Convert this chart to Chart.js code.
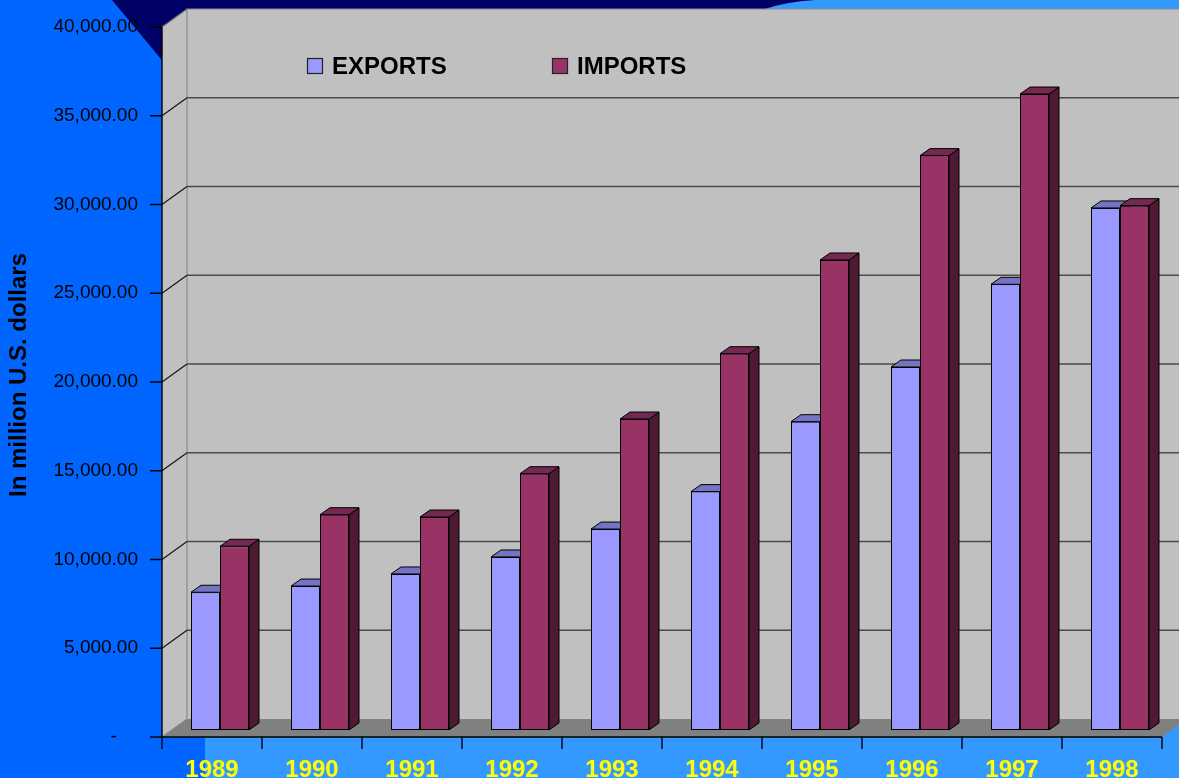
<!DOCTYPE html>
<html>
<head>
<meta charset="utf-8">
<script src="https://cdn.jsdelivr.net/npm/chart.js@4.4.1/dist/chart.umd.min.js"></script>
<style>
  html, body { margin: 0; padding: 0; background: #0066ff; }
  canvas { display: block; }
</style>
</head>
<body>
<canvas id="tradeChart" width="1179" height="778"></canvas>
<script>
// Exports and imports, million US dollars
const years = ['1989', '1990', '1991', '1992', '1993', '1994', '1995', '1996', '1997', '1998'];
const exportsValues = [7760, 8110, 8790, 9750, 11320, 13430, 17370, 20450, 25110, 29410];
const importsValues = [10350, 12130, 12000, 14440, 17520, 21200, 26480, 32360, 35830, 29540];
const valueTicks = [0, 5000, 10000, 15000, 20000, 25000, 30000, 35000, 40000];

const FONT = '"Liberation Sans", Arial, sans-serif';
Chart.defaults.font.family = FONT;

// depth of the bars, and where the front axis and back wall sit
// relative to the plane of the bar fronts
const DX = 10, DY = 7;
const FRONT = { dx: -8, dy: 7 };
const BACK = { dx: 17, dy: -11 };

const faceColors = [
  { top: '#7474c4', side: '#4d4d80' },
  { top: '#742852', side: '#4d1933' }
];

function poly(ctx, pts, fill, stroke) {
  ctx.beginPath();
  ctx.moveTo(pts[0][0], pts[0][1]);
  for (let i = 1; i < pts.length; i++) ctx.lineTo(pts[i][0], pts[i][1]);
  ctx.closePath();
  if (fill) { ctx.fillStyle = fill; ctx.fill(); }
  if (stroke) { ctx.strokeStyle = stroke; ctx.stroke(); }
}

const scene3d = {
  id: 'scene3d',
  beforeDraw(chart) {
    const { ctx, chartArea: a, scales: { x, y } } = chart;
    const W = chart.width, H = chart.height;
    const fx = a.left + FRONT.dx, fBottom = a.bottom + FRONT.dy;
    const bx = a.left + BACK.dx, bBottom = a.bottom + BACK.dy;
    const fRight = a.right + FRONT.dx, bRight = a.right + BACK.dx;
    const top = y.getPixelForValue(valueTicks[valueTicks.length - 1]);

    ctx.save();
    // slide background
    ctx.fillStyle = '#0066ff';
    ctx.fillRect(0, 0, W, H);
    ctx.fillStyle = '#3399ff';
    ctx.fillRect(700, 0, W - 700, 20);
    ctx.fillRect(205, fBottom, W - 205, H - fBottom);
    ctx.fillRect(fRight, bBottom, W - fRight, fBottom - bBottom + 1);
    ctx.fillStyle = '#000066';
    ctx.beginPath();
    ctx.moveTo(112, 0);
    ctx.lineTo(200, 106);
    ctx.lineTo(200, 20);
    ctx.lineTo(740, 20);
    ctx.lineTo(765, 9);
    ctx.quadraticCurveTo(785, 2, 815, 0);
    ctx.closePath();
    ctx.fill();

    // walls and floor
    ctx.lineWidth = 1;
    ctx.fillStyle = '#c0c0c0';
    ctx.fillRect(bx, top + BACK.dy, bRight - bx, bBottom - top - BACK.dy);
    poly(ctx, [[fx, top + FRONT.dy], [bx, top + BACK.dy], [bx, bBottom], [fx, fBottom]], '#c0c0c0');
    poly(ctx, [[fx, fBottom], [fRight, fBottom], [bRight, bBottom], [bx, bBottom]], '#808080');

    ctx.strokeStyle = '#8a8a8a';
    ctx.lineWidth = 1.2;
    ctx.beginPath();
    ctx.moveTo(bx, bBottom);
    ctx.lineTo(bx, top + BACK.dy);
    ctx.lineTo(bRight, top + BACK.dy);
    ctx.moveTo(fx, fBottom);
    ctx.lineTo(bx, bBottom);
    ctx.stroke();

    // gridlines on the back wall and their runs across the side wall
    valueTicks.forEach(v => {
      if (v === 0) return;
      const py = y.getPixelForValue(v);
      const last = v === valueTicks[valueTicks.length - 1];
      if (!last) {
        ctx.strokeStyle = '#4a4a4a';
        ctx.lineWidth = 1.4;
        ctx.beginPath();
        ctx.moveTo(bx, py + BACK.dy);
        ctx.lineTo(bRight, py + BACK.dy);
        ctx.stroke();
      }
      ctx.strokeStyle = last ? '#707070' : '#111';
      ctx.lineWidth = 1.1;
      ctx.beginPath();
      ctx.moveTo(fx, py + FRONT.dy);
      ctx.lineTo(bx, py + BACK.dy);
      ctx.stroke();
    });

    // front axes with tick marks
    ctx.strokeStyle = '#000';
    ctx.lineWidth = 1.4;
    ctx.beginPath();
    ctx.moveTo(fx, top + FRONT.dy);
    ctx.lineTo(fx, fBottom);
    ctx.moveTo(fx - 12, fBottom);
    ctx.lineTo(fRight, fBottom);
    valueTicks.forEach(v => {
      const py = y.getPixelForValue(v) + FRONT.dy;
      ctx.moveTo(fx - 12, py);
      ctx.lineTo(fx, py);
    });
    const step = x.getPixelForValue(1) - x.getPixelForValue(0);
    for (let i = 0; i <= years.length; i++) {
      const px = x.getPixelForValue(i) - step / 2 + FRONT.dx;
      ctx.moveTo(px, fBottom);
      ctx.lineTo(px, fBottom + 12);
    }
    ctx.stroke();
    ctx.restore();
  },
  beforeDatasetsDraw(chart) {
    const ctx = chart.ctx;
    ctx.save();
    ctx.lineWidth = 1;
    ctx.lineJoin = 'round';
    chart.data.datasets.forEach((ds, di) => {
      const colors = faceColors[di];
      chart.getDatasetMeta(di).data.forEach(bar => {
        const { x, y, base, width } = bar.getProps(['x', 'y', 'base', 'width'], true);
        const l = x - width / 2, r = x + width / 2;
        poly(ctx, [[r, y], [r + DX, y - DY], [r + DX, base - DY], [r, base]], colors.side, '#000');
        poly(ctx, [[l, y], [l + DX, y - DY], [r + DX, y - DY], [r, y]], colors.top, '#000');
      });
    });
    ctx.restore();
  },
  afterDraw(chart) {
    // legend inside the plot
    const ctx = chart.ctx;
    const slots = [307, 552];
    ctx.save();
    ctx.font = 'bold 24px ' + FONT;
    ctx.textBaseline = 'alphabetic';
    ctx.lineWidth = 1.2;
    chart.data.datasets.forEach((ds, i) => {
      const lx = slots[i];
      ctx.fillStyle = ds.backgroundColor;
      ctx.fillRect(lx, 58, 16, 16);
      ctx.strokeStyle = '#222';
      ctx.strokeRect(lx + 0.5, 58.5, 15, 15);
      ctx.fillStyle = '#000';
      ctx.fillText(ds.label, lx + 25, 74);
    });
    ctx.restore();
  }
};

new Chart(document.getElementById('tradeChart'), {
  type: 'bar',
  data: {
    labels: years,
    datasets: [
      {
        label: 'EXPORTS',
        data: exportsValues,
        backgroundColor: '#9999ff',
        borderColor: '#000',
        borderWidth: 1,
        borderSkipped: false,
        barPercentage: 1,
        categoryPercentage: 0.58
      },
      {
        label: 'IMPORTS',
        data: importsValues,
        backgroundColor: '#993366',
        borderColor: '#000',
        borderWidth: 1,
        borderSkipped: false,
        barPercentage: 1,
        categoryPercentage: 0.58
      }
    ]
  },
  options: {
    responsive: false,
    animation: false,
    devicePixelRatio: 1,
    layout: { padding: { top: 20, right: 9, bottom: 0, left: 0 } },
    plugins: {
      legend: { display: false },
      tooltip: { enabled: false }
    },
    scales: {
      x: {
        grid: { display: false, drawTicks: false },
        border: { display: false },
        ticks: {
          color: '#ffff00',
          font: { size: 24, weight: 'bold' },
          padding: 26,
          labelOffset: -8,
          maxRotation: 0
        },
        afterFit: s => {
          s.height = 48;
          s.paddingLeft = 0;
          s.paddingRight = 0;
        }
      },
      y: {
        min: 0,
        max: 40000,
        grid: { display: false, drawTicks: false },
        border: { display: false },
        afterBuildTicks: s => { s.ticks = valueTicks.map(v => ({ value: v })); },
        ticks: {
          color: '#000',
          font: { size: 19 },
          padding: 32,
          labelOffset: 7,
          callback: v => v === 0 ? '-    ' :
            v.toLocaleString('en-US', { minimumFractionDigits: 2, maximumFractionDigits: 2 })
        },
        title: {
          display: true,
          text: 'In million U.S. dollars',
          color: '#000',
          font: { size: 24, weight: 'bold' },
          padding: { top: 5, bottom: 0 }
        },
        afterFit: s => {
          s.width = 170;
          s.paddingTop = 0;
          s.paddingBottom = 0;
        }
      }
    }
  },
  plugins: [scene3d]
});
</script>
</body>
</html>
